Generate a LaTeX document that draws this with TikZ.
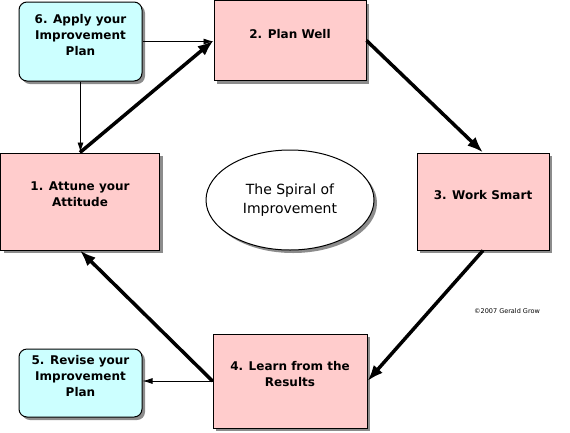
\documentclass[tikz,border=0pt]{standalone}
\usepackage{fontspec}
\setmainfont{DejaVu Sans}
\usetikzlibrary{arrows.meta,shapes.geometric,shadows}
\definecolor{stepfill}{HTML}{FFCCCC}
\definecolor{revfill}{HTML}{CCFFFF}

\begin{document}
\begin{tikzpicture}[x=1pt,y=-1pt,font=\bfseries\fontsize{12}{16}\selectfont,
  boxshadow/.style={drop shadow={shadow xshift=3pt,shadow yshift=-3pt,
                    fill=black!45,opacity=1}},
  stepbox/.style={draw,line width=1pt,fill=stepfill,boxshadow,align=center,
                  text depth=14pt,inner sep=0pt},
  revbox/.style={stepbox,fill=revfill,rounded corners=8pt},
  bigarrow/.style={line width=3.5pt,-{Latex[length=16pt,width=12pt]}},
  smallarrow/.style={line width=0.9pt,-{Latex[length=10pt,width=6pt]}}]
\useasboundingbox (0,0) rectangle (570,432);
\node[stepbox,minimum width=159pt,minimum height=97pt] (attune) at (80,201.5)
  {1. Attune your\\Attitude};
\node[stepbox,minimum width=152pt,minimum height=80pt] (plan) at (290,40.5)
  {2. Plan Well};
\node[stepbox,minimum width=132pt,minimum height=97pt] (work) at (483,201.5)
  {3. Work Smart};
\node[stepbox,minimum width=154pt,minimum height=94pt] (learn) at (290,381)
  {4. Learn from the\\Results};
\node[revbox,minimum width=123pt,minimum height=68pt] (revise) at (80.5,383)
  {5. Revise your\\Improvement\\Plan};
\node[revbox,minimum width=123pt,minimum height=79pt] (apply) at (80.5,41.5)
  {6. Apply your\\Improvement\\Plan};
\node[draw,line width=1pt,ellipse,fill=white,boxshadow,minimum width=168pt,
  minimum height=100pt,inner sep=0pt,align=center,
  font=\mdseries\fontsize{14}{19}\selectfont] (spiral) at (290,200)
  {The Spiral of\\Improvement};
\node[font=\mdseries\fontsize{6.5}{8}\selectfont] (credit) at (507,311)
  {©2007 Gerald Grow};
\draw[smallarrow] (apply.east) -- (apply.east -| plan.west);
\draw[smallarrow] (apply.south) -- (apply.south |- attune.north);
\draw[bigarrow] (attune.north) -- (plan.west);
\draw[bigarrow] (plan.east) -- (work.north);
\draw[bigarrow] (work.south) -- (learn.east);
\draw[bigarrow] (learn.west) -- (attune.south);
\draw[smallarrow] (learn.west) -- (learn.west -| revise.east);
\end{tikzpicture}
\end{document}
